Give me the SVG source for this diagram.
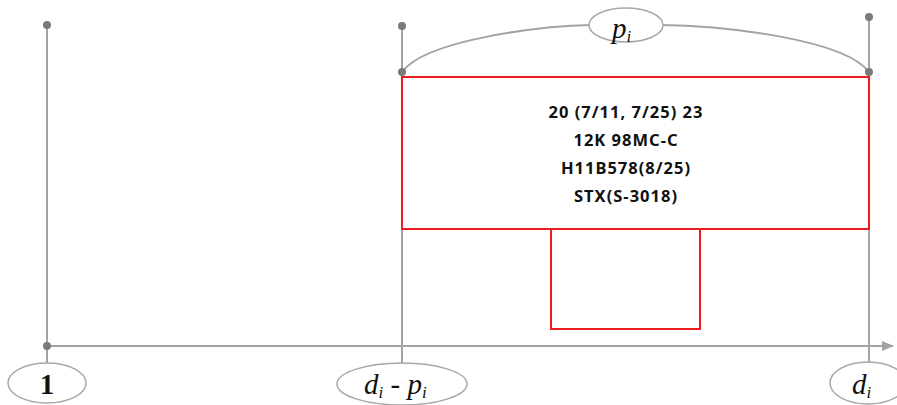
<svg xmlns="http://www.w3.org/2000/svg" width="897" height="405" viewBox="0 0 897 405">
  <style>
    .ln { stroke: #a3a3a3; stroke-width: 2; fill: none; }
    .dot { fill: #7a7a7a; }
    .oval { fill: #ffffff; stroke: #a8a8a8; stroke-width: 1.5; }
    .math { font-family: "Liberation Serif", "DejaVu Serif", serif; font-size: 29px; fill: #111; }
    .it { font-style: italic; }
    .sub { font-size: 17px; font-style: italic; }
    .job { fill: none; stroke: #ee1c1c; stroke-width: 2; }
    .info { font-family: "Noto Sans", "Noto Sans CJK KR", sans-serif; font-weight: bold; font-size: 16.5px; letter-spacing: 1px; fill: #111; text-anchor: middle; }
  </style>
  <defs>
    <marker id="arrow" markerWidth="12" markerHeight="10" refX="11" refY="5" orient="auto" markerUnits="userSpaceOnUse">
      <path d="M0,0 L12,5 L0,10 Z" fill="#a3a3a3"/>
    </marker>
  </defs>

  <g id="connectors">
    <!-- time axis -->
    <line class="ln" x1="47" y1="346" x2="893" y2="346" marker-end="url(#arrow)"/>
    <!-- vertical markers -->
    <line class="ln" x1="47" y1="25" x2="47" y2="364"/>
    <line class="ln" x1="402" y1="26" x2="402" y2="364"/>
    <line class="ln" x1="869" y1="17" x2="869" y2="364"/>
    <!-- processing-time span -->
    <path class="ln" d="M402,72 C425,40 540,26 592,25 M660,25 C730,26 845,40 869,72"/>
    <circle class="dot" cx="47" cy="25" r="4"/>
    <circle class="dot" cx="47" cy="346" r="4"/>
    <circle class="dot" cx="402" cy="26" r="4"/>
    <circle class="dot" cx="402" cy="72" r="4"/>
    <circle class="dot" cx="869" cy="17" r="4"/>
    <circle class="dot" cx="869" cy="72" r="4"/>
  </g>

  <g id="job">
    <rect class="job" x="402" y="77" width="467" height="152"/>
    <rect class="job" x="551" y="229" width="149" height="100"/>
    <text class="info" x="626" y="118">20 (7/11, 7/25) 23</text>
    <text class="info" x="626" y="146">12K 98MC-C</text>
    <text class="info" x="626" y="174">H11B578(8/25)</text>
    <text class="info" x="626" y="202">STX(S-3018)</text>
  </g>

  <g id="label-p">
    <ellipse class="oval" cx="626" cy="25" rx="37" ry="17"/>
    <text class="math" x="612" y="38"><tspan class="it">p</tspan><tspan class="sub" dy="4">i</tspan></text>
  </g>

  <g id="label-1">
    <ellipse class="oval" cx="47" cy="383" rx="39" ry="20"/>
    <text class="math" x="47" y="394" text-anchor="middle" font-weight="bold">1</text>
  </g>

  <g id="label-start">
    <ellipse class="oval" cx="402" cy="384" rx="65" ry="21"/>
    <text class="math" x="364" y="394"><tspan class="it">d</tspan><tspan class="sub" dy="4">i</tspan><tspan dy="-4"> - </tspan><tspan class="it">p</tspan><tspan class="sub" dy="4">i</tspan></text>
  </g>

  <g id="label-due">
    <ellipse class="oval" cx="868" cy="383" rx="38" ry="21"/>
    <text class="math" x="852" y="394"><tspan class="it">d</tspan><tspan class="sub" dy="4">i</tspan></text>
  </g>
</svg>
